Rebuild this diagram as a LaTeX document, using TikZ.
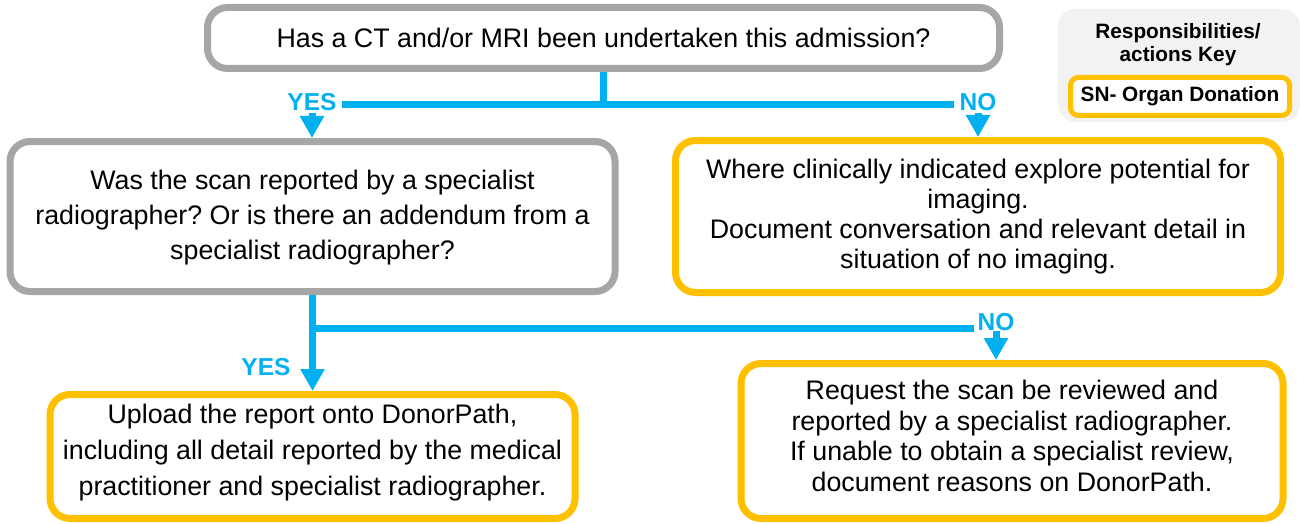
\documentclass[tikz,border=0pt]{standalone}
\usepackage{fontspec}
\setmainfont{Liberation Sans}
\usetikzlibrary{arrows.meta}
\definecolor{boxgray}{HTML}{A6A6A6}
\definecolor{boxorange}{HTML}{FFC000}
\definecolor{lineblue}{HTML}{00B0F0}
\definecolor{keyfill}{HTML}{F2F2F2}
\frenchspacing
\begin{document}
\begin{tikzpicture}[x=1pt,y=-1pt,
  basebox/.style={draw, line width=7pt, rounded corners=20pt, fill=white, align=center, inner sep=0pt},
  graybox/.style={basebox, draw=boxgray},
  orangebox/.style={basebox, draw=boxorange},
  conn/.style={draw=lineblue, line width=7pt},
  arr/.style={draw=lineblue, line width=7pt, -{Triangle[width=23pt,length=22pt]}},
  lbl/.style={text=lineblue, font=\fontsize{24.5}{26}\selectfont\bfseries, inner sep=0pt},
  bodytext/.style={font=\fontsize{26.8}{#1}\selectfont, align=center, inner sep=0pt}
]
\useasboundingbox (0,0) rectangle (1300,524);
% boxes
\node[graybox, minimum width=792pt, minimum height=61pt, bodytext=30] (top) at (603.5,38)
  {Has a CT and/or MRI been undertaken this admission?};
\node[graybox, minimum width=605pt, minimum height=150pt] (scan) at (312.5,216.5) {};
\node[bodytext=35] (scantext) at (312.5,218)
  {Was the scan reported by a specialist\\radiographer? Or is there an addendum from a\\specialist radiographer?};
\node[orangebox, minimum width=605pt, minimum height=152pt] (explore) at (978,216.5) {};
\node[bodytext=30] (exploretext) at (978,216.5)
  {Where clinically indicated explore potential for\\imaging.\\Document conversation and relevant detail in\\situation of no imaging.};
\node[orangebox, minimum width=525pt, minimum height=124pt] (upload) at (312.5,456.5) {};
\node[bodytext=36] (uploadtext) at (312.5,453)
  {Upload the report onto DonorPath,\\including all detail reported by the medical\\practitioner and specialist radiographer.};
\node[orangebox, minimum width=542pt, minimum height=155pt] (request) at (1012,441) {};
\node[bodytext=30.7] (requesttext) at (1012,436)
  {Request the scan be reviewed and\\reported by a specialist radiographer.\\If unable to obtain a specialist review,\\document reasons on DonorPath.};
% key
\node[fill=keyfill, rounded corners=18pt, minimum width=242pt, minimum height=113pt, inner sep=0pt] (key) at (1179,65.5) {};
\node[font=\fontsize{20.8}{23}\selectfont\bfseries, align=center, inner sep=0pt] (keytitle) at (1178,45) {Responsibilities/\\actions Key};
\node[draw=boxorange, line width=5pt, fill=white, rounded corners=8pt, minimum width=219pt, minimum height=38pt, inner sep=0pt,
  font=\fontsize{20.8}{23}\selectfont\bfseries] (sn) at (1180,96.5) {SN- Organ Donation};
% labels
\node[lbl] (yes1) at (312,102) {YES};
\node[lbl] (no1) at (978,102) {NO};
\node[lbl] (yes2) at (266,367) {YES};
\node[lbl] (no2) at (996,322) {NO};
% connectors
\coordinate (h1) at (603,105);
\draw[conn] (top.south) -- (top.south |- h1);
\draw[conn] ([xshift=5pt]yes1.east |- h1) -- ([xshift=-5pt]no1.west |- h1);
\coordinate (a1) at (312,113);
\coordinate (a2) at (978,113);
\draw[arr] (a1) -- (a1 |- scan.north);
\draw[arr] (a2) -- (a2 |- explore.north);
\draw[arr] (scan.south) -- (upload.north);
\coordinate (h2) at (313,328);
\draw[conn] ([xshift=-3.5pt]h2) -- ([xshift=-3pt]no2.west |- h2);
\coordinate (a3) at (996,331);
\draw[arr] (a3) -- (a3 |- request.north);
\end{tikzpicture}
\end{document}
